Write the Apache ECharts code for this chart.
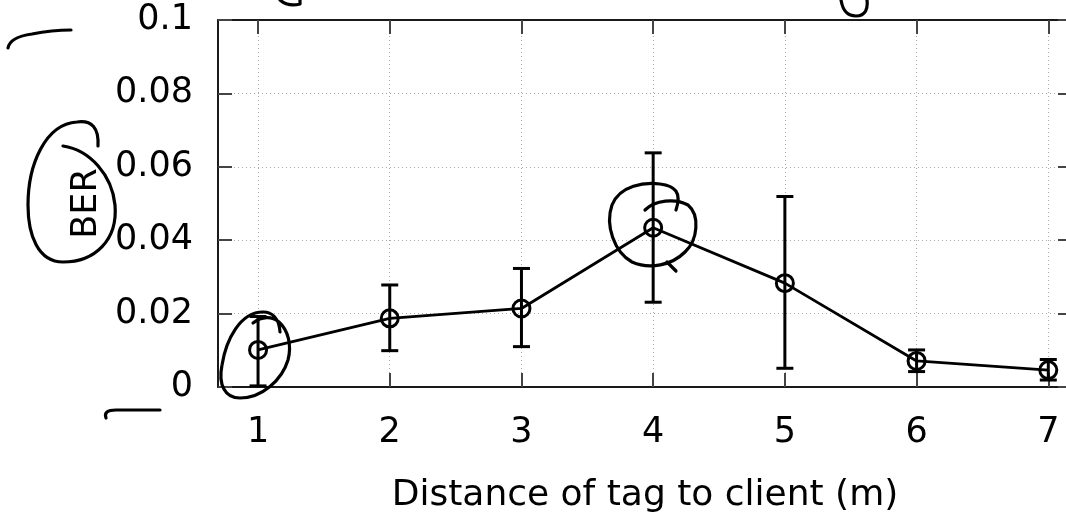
<!DOCTYPE html>
<html>
<head>
<meta charset="utf-8">
<script src="https://cdn.jsdelivr.net/npm/echarts@6/dist/echarts.min.js"></script>
<style>html,body{margin:0;padding:0;background:#fff;}#c{width:1066px;height:519px;}</style>
</head>
<body>
<div id="c"></div>
<script>
const distances = [1, 2, 3, 4, 5, 6, 7];
const xTicks = [1, 2, 3, 4, 5, 6, 7];
const berMean = [0.0101, 0.0187, 0.0214, 0.0434, 0.0283, 0.0071, 0.0046];
const berHigh = [0.0192, 0.0278, 0.0323, 0.0638, 0.0519, 0.0101, 0.0075];
const berLow  = [0.0003, 0.0099, 0.0110, 0.0231, 0.0051, 0.0042, 0.0019];

const FONT = 'DejaVu Sans';
const axisCol = '#1a1a1a';
const tickStyle = { show: true, inside: true, length: 14, lineStyle: { color: '#444', width: 2 } };
const gridLine = { show: true, lineStyle: { color: '#aaa', type: [1, 3], width: 1 } };

const lineData = distances.map((d, i) => [d, berMean[i]]);
const errData = distances.map((d, i) => [d, berLow[i], berHigh[i]]);

const chart = echarts.init(document.getElementById('c'), null, { renderer: 'canvas' });

// hand-drawn annotation strokes (decoration, pixel space)
const strokes = [
  'M8 48 Q10 37 32 34 Q52 30 71 30',
  'M106 418 Q103 410 116 410 L160 410',
  'M63 146 C90 150 112 175 115 205 C118 240 95 262 63 262 C38 262 28 235 28 205 C28 165 45 124 77 122 C92 120 99 128 98 146',
  'M253 323 C262 316 272 316 279 322 C288 330 292 345 288 360 C282 380 262 398 240 398 C225 398 218 385 222 365 C226 340 240 312 263 312 C272 312 279 318 280 332',
  'M645 210 C655 200 675 198 688 205 C700 215 698 240 685 252 C672 265 650 270 632 262 C614 252 605 225 612 205 C620 185 645 182 660 184 C675 186 682 192 676 210',
  'M667 262 L676 271',
  'M280 0 Q288 7 300 4 L300 0',
  'M841 0 C843 12 848 16 856 16 C866 16 868 8 867 0'
];

chart.setOption({
  backgroundColor: '#fff',
  animation: false,
  grid: { left: 218, top: 20, width: 854, height: 367, containLabel: false, outerBoundsMode: 'none' },
  xAxis: [
    {
      type: 'value', min: 0.696, max: 7.18, position: 'bottom',
      name: 'Distance of tag to client (m)', nameLocation: 'middle', nameGap: 91,
      nameTextStyle: { fontFamily: FONT, fontSize: 36, color: '#000' },
      axisLine: { show: true, onZero: false, lineStyle: { color: axisCol, width: 2 } },
      axisTick: Object.assign({ customValues: xTicks }, tickStyle),
      axisLabel: { customValues: xTicks, fontFamily: FONT, fontSize: 35, color: '#000', margin: 28,
        formatter: v => String(v) },
      splitLine: gridLine
    },
    {
      type: 'value', min: 0.696, max: 7.18, position: 'top',
      axisLine: { show: true, onZero: false, lineStyle: { color: axisCol, width: 2 } },
      axisTick: Object.assign({ customValues: xTicks }, tickStyle),
      axisLabel: { show: false },
      splitLine: { show: false }
    }
  ],
  yAxis: [
    {
      type: 'value', min: 0, max: 0.1, interval: 0.02, position: 'left',
      name: 'BER', nameLocation: 'middle', nameGap: 114,
      nameTextStyle: { fontFamily: FONT, fontSize: 35, color: '#000' },
      axisLine: { show: true, onZero: false, lineStyle: { color: axisCol, width: 2 } },
      axisTick: tickStyle,
      axisLabel: { fontFamily: FONT, fontSize: 35, color: '#000', margin: 25 },
      splitLine: gridLine
    },
    {
      type: 'value', min: 0, max: 0.1, interval: 0.02, position: 'right',
      axisLine: { show: true, onZero: false, lineStyle: { color: axisCol, width: 2 } },
      axisTick: tickStyle,
      axisLabel: { show: false },
      splitLine: { show: false }
    }
  ],
  series: [
    {
      type: 'line', xAxisIndex: 0, yAxisIndex: 0, data: lineData,
      symbol: 'circle', symbolSize: 17,
      lineStyle: { color: '#000', width: 2.8 },
      itemStyle: { color: 'rgba(0,0,0,0)', borderColor: '#000', borderWidth: 3 },
      z: 3
    },
    {
      type: 'custom', xAxisIndex: 0, yAxisIndex: 0, data: errData, z: 4,
      renderItem: function (params, api) {
        const x = api.value(0);
        const lo = api.coord([x, api.value(1)]);
        const hi = api.coord([x, api.value(2)]);
        const hw = 8.5;
        const st = { stroke: '#000', lineWidth: 3 };
        return {
          type: 'group',
          children: [
            { type: 'line', shape: { x1: lo[0], y1: lo[1], x2: hi[0], y2: hi[1] }, style: st },
            { type: 'line', shape: { x1: hi[0] - hw, y1: hi[1], x2: hi[0] + hw, y2: hi[1] }, style: st },
            { type: 'line', shape: { x1: lo[0] - hw, y1: lo[1], x2: lo[0] + hw, y2: lo[1] }, style: st }
          ]
        };
      }
    },
    {
      type: 'custom', coordinateSystem: 'none', data: [0], z: 10, silent: true,
      renderItem: function () {
        return {
          type: 'group',
          children: strokes.map(p => ({
            type: 'path',
            shape: { pathData: p },
            style: { fill: 'none', stroke: '#000', lineWidth: 3.2, lineCap: 'round', lineJoin: 'round' }
          }))
        };
      }
    }
  ]
});
</script>
</body>
</html>
